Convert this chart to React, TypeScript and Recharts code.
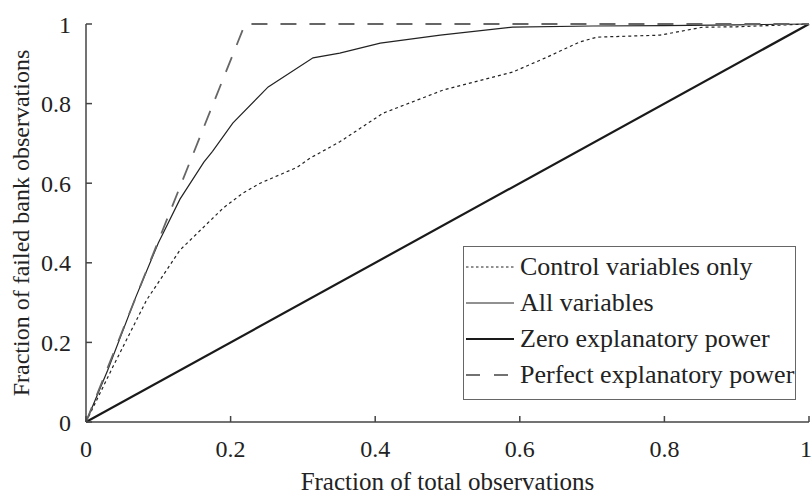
import { LineChart, Line, XAxis, YAxis, Legend, Label } from "recharts";

if (typeof document !== "undefined") document.body.style.margin = "0";

const axisTicks = [0, 0.2, 0.4, 0.6, 0.8, 1];

const controlX = [0, 0.037, 0.084, 0.13, 0.19, 0.217, 0.241, 0.292, 0.31, 0.351, 0.411, 0.494, 0.59, 0.638, 0.683, 0.707, 0.794, 0.853, 0.9, 1];
const controlY = [0, 0.138, 0.307, 0.432, 0.538, 0.575, 0.6, 0.64, 0.663, 0.704, 0.776, 0.834, 0.879, 0.917, 0.955, 0.967, 0.972, 0.992, 0.993, 1];

const allX = [0, 0.03, 0.068, 0.1, 0.13, 0.163, 0.175, 0.203, 0.252, 0.314, 0.351, 0.407, 0.49, 0.59, 0.7, 0.8, 0.9, 1];
const allY = [0, 0.13, 0.31, 0.45, 0.56, 0.653, 0.68, 0.751, 0.842, 0.915, 0.927, 0.952, 0.972, 0.992, 0.995, 0.996, 0.998, 1];

const zeroX = [0, 1];
const zeroY = [0, 1];

const perfectX = [0, 0.22, 1];
const perfectY = [0, 1, 1];

const toPoints = (xs: number[], ys: number[]) => xs.map((x, i) => ({ x, y: ys[i] }));

const series = [
  { name: "Control variables only", data: toPoints(controlX, controlY), stroke: "#222", width: 1.2, dash: "3 3" },
  { name: "All variables", data: toPoints(allX, allY), stroke: "#222", width: 1.2, dash: undefined },
  { name: "Zero explanatory power", data: toPoints(zeroX, zeroY), stroke: "#1a1a1a", width: 2.2, dash: undefined },
  { name: "Perfect explanatory power", data: toPoints(perfectX, perfectY), stroke: "#666", width: 1.8, dash: "16 13" },
];

const FONT = "Liberation Serif, DejaVu Serif, Times New Roman, serif";

function LegendBox() {
  const samples = ["2.5 2.5", undefined, undefined, "14 14"];
  const widths = [1, 1, 2, 1.3];
  return (
    <div
      style={{
        border: "1px solid #666",
        background: "#fff",
        width: 331,
        height: 150,
        boxSizing: "content-box",
        fontFamily: FONT,
        fontSize: 26,
        color: "#222",
        paddingTop: 2,
      }}
    >
      {series.map((s, i) => (
        <div key={s.name} style={{ display: "flex", alignItems: "center", height: 36, whiteSpace: "nowrap" }}>
          <svg width={56} height={20} style={{ flex: "none" }}>
            <line x1={2} y1={10} x2={50} y2={10} stroke={i === 3 ? "#444" : s.stroke} strokeWidth={widths[i]} strokeDasharray={samples[i]} />
          </svg>
          <span style={{ lineHeight: "36px" }}>{s.name}</span>
        </div>
      ))}
    </div>
  );
}

export default function App() {
  return (
    <div style={{ width: 812, height: 498, background: "#fff", position: "relative" }}>
      <LineChart width={812} height={498} margin={{ top: 24, right: 3, left: 0, bottom: 0 }}>
        <XAxis
          type="number"
          dataKey="x"
          domain={[0, 1]}
          ticks={axisTicks}
          tickSize={-6}
          tickMargin={24}
          height={76}
          stroke="#444"
          strokeWidth={1.5}
          tick={{ fill: "#222", fontSize: 24, fontFamily: FONT }}
          allowDuplicatedCategory={false}
        >
          <Label value="Fraction of total observations" position="insideBottom" offset={8} style={{ fill: "#222", fontSize: 25, fontFamily: FONT }} />
        </XAxis>
        <YAxis
          type="number"
          dataKey="y"
          domain={[0, 1]}
          ticks={axisTicks}
          tickSize={-6}
          tickMargin={21}
          width={86}
          stroke="#444"
          strokeWidth={1.5}
          tick={{ fill: "#222", fontSize: 24, fontFamily: FONT }}
        >
          <Label
            value="Fraction of failed bank observations"
            angle={-90}
            position="insideLeft"
            offset={20}
            style={{ textAnchor: "middle", fill: "#222", fontSize: 24, fontFamily: FONT }}
          />
        </YAxis>
        {series.map((s) => (
          <Line
            key={s.name}
            data={s.data}
            dataKey="y"
            name={s.name}
            type="linear"
            stroke={s.stroke}
            strokeWidth={s.width}
            strokeDasharray={s.dash}
            dot={false}
            activeDot={false}
            isAnimationActive={false}
          />
        ))}
        <Legend
          layout="vertical"
          align="center"
          verticalAlign="middle"
          content={() => <LegendBox />}
          wrapperStyle={{ left: 463, top: 246, width: 333, height: 154 }}
        />
      </LineChart>
    </div>
  );
}
